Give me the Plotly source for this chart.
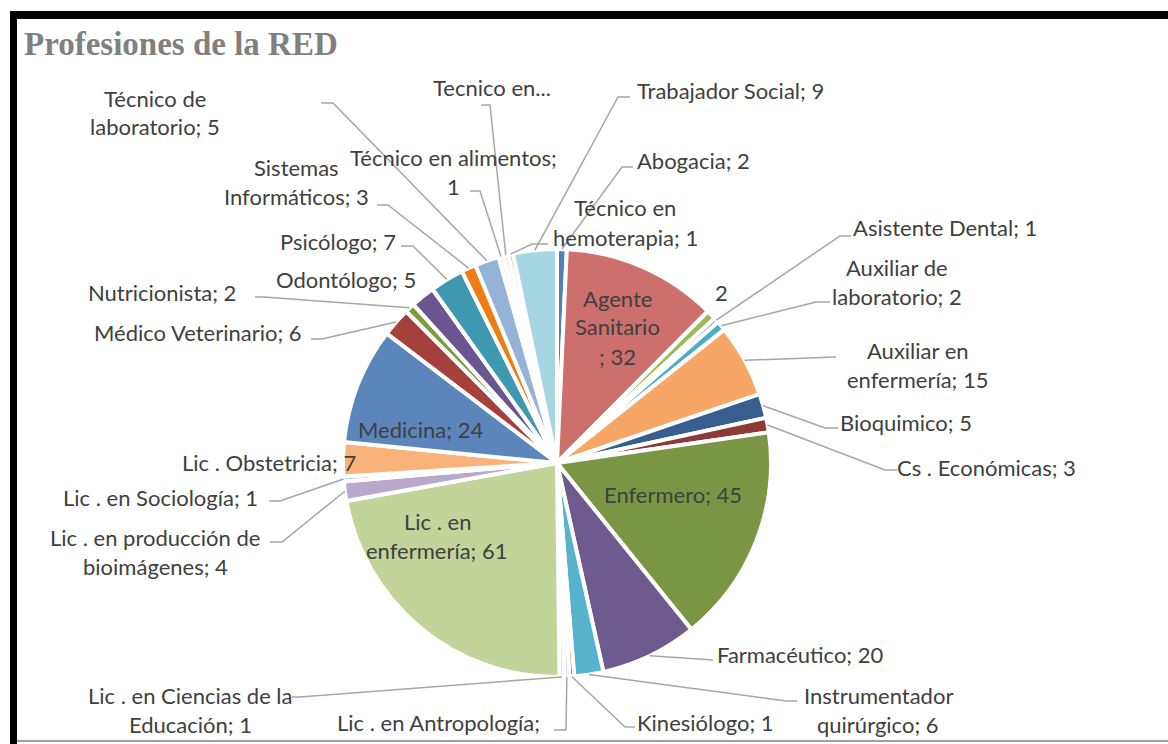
import math
import textwrap

import plotly.graph_objects as go

# datos: profesiones de la red (orden de las porciones, sentido horario desde las 12)
profesiones = [
    "Abogacia", "Agente Sanitario ", "", "Asistente Dental", "Auxiliar de laboratorio",
    "Auxiliar en enfermería", "Bioquimico", "Cs . Económicas", "Enfermero", "Farmacéutico",
    "Instrumentador quirúrgico", "Kinesiólogo", "Lic . en Antropología",
    "Lic . en Ciencias de la Educación", "Lic . en enfermería",
    "Lic . en producción de bioimágenes", "Lic . en Sociología", "Lic . Obstetricia",
    "Medicina", "Médico Veterinario", "Nutricionista", "Odontólogo", "Psicólogo",
    "Sistemas Informáticos", "Técnico de laboratorio", "Técnico en alimentos",
    "Tecnico en...", "Técnico en hemoterapia", "Trabajador Social",
]
cantidades = [2, 32, 2, 1, 2, 15, 5, 3, 45, 20, 6, 1, 1, 1, 61, 4, 1, 7, 24, 6, 2, 5, 7, 3, 5, 1, 1, 1, 9]

colores = [
    "#4F81BD", "#CD6F6C", "#9BBB59", "#8064A2", "#4BACC6", "#F8A665", "#375E8E", "#8B3A38",
    "#7A9644", "#6E5B8E", "#56B3CB", "#E46C0A", "#B9CDE5", "#E6B9B8", "#C2D49A", "#B8A8CC",
    "#93CDDD", "#F9B27A", "#5C86BB", "#A6403D", "#7D9A3F", "#6A5590", "#3E98B0", "#F07C14",
    "#95B3D7", "#F2DCDB", "#D7E4BD", "#CCC1DA", "#A5D6E2",
]

W, H = 1168, 744
CX, CY, R = 557, 463, 214
GRIS_TXT = "#404040"
GRIS_LIN = "#A6A6A6"
FUENTE = "Lato"
FS = 22
LH = 29

# posicion de cada etiqueta: (x, y primera linea, ancho de corte, anclaje, quiebres de la guia)
etiquetas = {
    0: (693, 160, 40, "center", [(622, 167), (633, 167)]),
    1: (617, 298, 9, "center", None),
    2: (721, 292, 40, "center", None),
    3: (945, 228, 40, "center", [(840, 236), (851, 236)]),
    4: (897, 267, 14, "center", [(816, 302), (830, 302)]),
    5: (918, 350, 14, "center", [(836, 357)]),
    6: (906, 422, 40, "center", [(825, 428), (838, 428)]),
    7: (986, 467, 40, "center", [(885, 470), (897, 470)]),
    8: (673, 494, 40, "center", None),
    9: (800, 654, 40, "center", [(713, 660)]),
    10: (878, 695, 14, "center", [(786, 701), (797, 701)]),
    11: (705, 722, 40, "center", [(625, 727), (635, 727)]),
    12: (438, 722, 22, "center", [(566, 730), (554, 730)]),
    13: (190, 695, 23, "center", [(300, 697), (292, 697)]),
    14: (437, 521, 14, "center", None),
    15: (155, 537, 22, "center", [(282, 542), (270, 542)]),
    16: (160, 497, 40, "center", [(280, 501), (269, 501)]),
    17: (358, 462, 40, "right", None),
    18: (420, 429, 40, "center", None),
    19: (198, 332, 40, "center", [(322, 339), (311, 339)]),
    20: (162, 292, 40, "center", [(264, 297), (255, 297)]),
    21: (346, 279, 40, "center", None),
    22: (338, 241, 40, "center", [(413, 246), (401, 246)]),
    23: (296, 167, 15, "center", [(388, 205), (377, 205)]),
    24: (155, 98, 14, "center", [(333, 103), (321, 103)]),
    25: (453, 157, 21, "center", [(480, 191), (470, 191)]),
    26: (492, 87, 40, "center", [(490, 105), (481, 105)]),
    27: (625, 208, 14, "center", [(532, 244), (548, 244)]),
    28: (730, 90, 40, "center", [(618, 97), (630, 97)]),
}


def px(x):
    return x / W


def py(y):
    return 1 - y / H


fig = go.Figure(go.Pie(
    labels=[p if p else " " for p in profesiones],
    values=cantidades,
    sort=False,
    direction="clockwise",
    rotation=0,
    textinfo="none",
    marker=dict(colors=colores, line=dict(color="white", width=4)),
    domain=dict(x=[px(CX - R), px(CX + R)], y=[py(CY + R), py(CY - R)]),
    showlegend=False,
))

total = sum(cantidades)
acum = 0
anotaciones = []
formas = []
for i, (nombre, v) in enumerate(zip(profesiones, cantidades)):
    medio = (acum + v / 2) / total * 2 * math.pi
    acum += v
    x, y0, corte, anclaje, guia = etiquetas[i]
    if nombre.endswith("..."):
        texto = nombre
    elif nombre:
        texto = f"{nombre}; {v}"
    else:
        texto = str(v)
    lineas = textwrap.wrap(texto, corte, break_long_words=False)
    for k, linea in enumerate(lineas):
        yk = y0 + k * LH
        if yk > H - 10:
            continue  # fuera del area visible, como en el original
        anotaciones.append(dict(
            x=px(x), y=py(yk), xref="paper", yref="paper",
            text=linea, showarrow=False, xanchor=anclaje, yanchor="middle",
            font=dict(family=FUENTE, size=FS, color=GRIS_TXT),
        ))
    if guia:
        sx = CX + R * math.sin(medio)
        sy = CY - R * math.cos(medio)
        d = f"M {px(sx)} {py(sy)}" + "".join(f" L {px(a)} {py(b)}" for a, b in guia)
        formas.append(dict(type="path", path=d, xref="paper", yref="paper",
                           line=dict(color=GRIS_LIN, width=1.5)))

# marco
formas += [
    dict(type="rect", xref="paper", yref="paper", x0=px(10), x1=px(17), y0=0, y1=py(11),
         fillcolor="black", line=dict(width=0)),
    dict(type="rect", xref="paper", yref="paper", x0=px(10), x1=1, y0=py(19), y1=py(11),
         fillcolor="black", line=dict(width=0)),
    dict(type="line", xref="paper", yref="paper", x0=px(17), x1=1, y0=py(741), y1=py(741),
         line=dict(color="#808080", width=1.5)),
]

anotaciones.append(dict(
    x=px(22), y=py(44), xref="paper", yref="paper", text="<b>Profesiones de la RED</b>",
    showarrow=False, xanchor="left", yanchor="middle",
    font=dict(family="Liberation Serif", size=33, color="#808080"),
))

fig.update_layout(
    width=W, height=H,
    margin=dict(l=0, r=0, t=0, b=0),
    paper_bgcolor="white",
    annotations=anotaciones,
    shapes=formas,
)

fig.write_html("out.html", config={"displayModeBar": False},
               post_script="document.body.style.margin='0px';")
